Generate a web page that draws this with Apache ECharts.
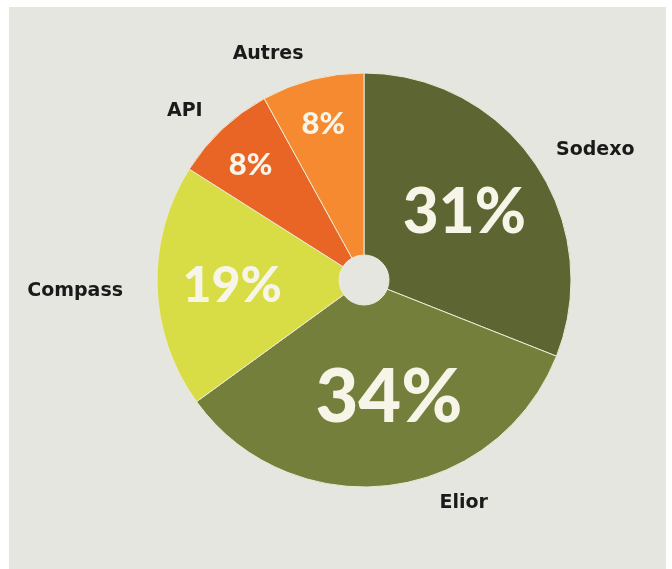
<!DOCTYPE html>
<html>
<head>
<meta charset="utf-8">
<script src="https://cdn.jsdelivr.net/npm/echarts@6/dist/echarts.min.js"></script>
<style>
html,body{margin:0;padding:0;background:#ffffff;}
#panel{position:absolute;left:9px;top:7px;width:657px;height:562px;background:#e6e6e0;}
#chart{position:absolute;left:0;top:0;width:672px;height:569px;}
</style>
</head>
<body>
<div id="panel"></div>
<div id="chart"></div>
<script>
const names = ['Sodexo', 'Elior', 'Compass', 'API', 'Autres'];
const values = [31, 34, 19, 8, 8];
const colors = ['#5d6633', '#737f3a', '#d9dd45', '#e86526', '#f58a30'];
const pctFontSizes = [62, 74, 50, 31, 31];
const pctOffsets = [[2, 0], [10, 0], [-13, 2], [-32, -28], [-11, -41]];
const nameOffsets = [[22, 12], [68, -28], [-36, 3], [-6, 15], [-33, 19]];

const chart = echarts.init(document.getElementById('chart'), null, {renderer: 'canvas'});
const center = [364, 280];

const mainData = names.map((n, i) => ({
  name: n,
  value: values[i],
  itemStyle: {color: colors[i]},
  label: {fontSize: pctFontSizes[i], offset: pctOffsets[i]}
}));
const nameData = names.map((n, i) => ({
  name: n,
  value: values[i],
  label: {offset: nameOffsets[i]}
}));

chart.setOption({
  animation: false,
  series: [
    {
      type: 'pie',
      center: center,
      radius: [25, 207],
      startAngle: 90,
      clockwise: true,
      avoidLabelOverlap: false,
      silent: true,
      itemStyle: {borderColor: '#ece8d4', borderWidth: 1},
      label: {
        show: true,
        position: 'inside',
        formatter: '{c}%',
        color: '#f7f5e8',
        fontFamily: 'Lato',
        fontWeight: 900
      },
      labelLine: {show: false},
      data: mainData
    },
    {
      type: 'pie',
      center: center,
      radius: [0, 500],
      startAngle: 90,
      clockwise: true,
      avoidLabelOverlap: false,
      silent: true,
      z: 1,
      itemStyle: {color: 'rgba(0,0,0,0)', borderWidth: 0},
      label: {
        show: true,
        position: 'inside',
        formatter: '{b}',
        color: '#1a1a1a',
        fontFamily: 'DejaVu Sans',
        fontWeight: 'bold',
        fontSize: 19
      },
      labelLine: {show: false},
      data: nameData
    }
  ]
});
</script>
</body>
</html>
